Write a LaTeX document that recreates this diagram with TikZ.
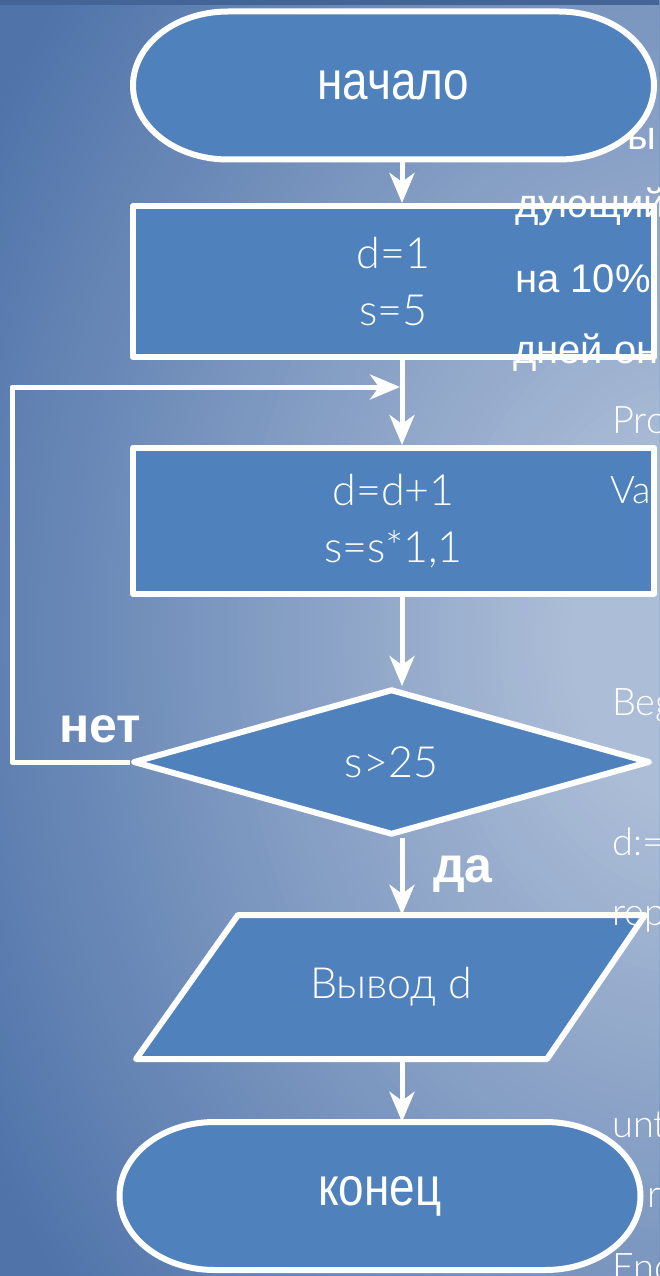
\documentclass[tikz,border=0pt]{standalone}
\usepackage{fontspec}
\setmainfont{Liberation Sans}
\IfFontExistsTF{Lato Light}{\newfontfamily\thinfont{Lato Light}}{\newfontfamily\thinfont{Lato}}
\newfontfamily\narrowfont[FakeStretch=0.85]{Liberation Sans}
\usetikzlibrary{arrows.meta,shadows,shapes.geometric}
\definecolor{boxblue}{RGB}{79,129,189}
\definecolor{bginner}{RGB}{172,189,215}
\definecolor{bgouter}{RGB}{80,116,170}
\definecolor{topband}{RGB}{66,100,150}
\begin{document}
\begin{tikzpicture}[x=1pt,y=-1pt]
\tikzset{
fon/.style={draw=white,line width=6pt,line join=round,fill=boxblue,drop shadow={opacity=0.3,shadow xshift=1.5pt,shadow yshift=-2.5pt},inner sep=0pt,text=white},
kapsula/.pic={\path[fon] (-165.5,-74) -- (165.5,-74) arc[start angle=-90,end angle=90,x radius=95,y radius=74] -- (-165.5,74) arc[start angle=90,end angle=270,x radius=95,y radius=74] -- cycle;},
oval/.style={text=white,inner sep=0pt,minimum width=521pt,minimum height=148pt,font=\narrowfont\fontsize{54}{60}\selectfont},
blok/.style={fon,minimum width=521pt,align=center,font=\thinfont\fontsize{43}{57}\selectfont},
strelka/.style={white,line width=5pt,-{Stealth[length=30pt,width=25pt,inset=9pt]}},
podpis/.style={white,font=\bfseries\fontsize{50}{55}\selectfont,anchor=base},
kusok/.style={white,anchor=base west,inner sep=0pt,font=\fontsize{40}{44}\selectfont},
kod/.style={white,anchor=base west,inner sep=0pt,font=\thinfont\fontsize{38}{42}\selectfont}
}
\useasboundingbox (0,0) rectangle (659,1276);
\clip (0,0) rectangle (659,1276);
\fill[bgouter] (0,0) rectangle (659,1276);
\foreach \k in {0,...,79} {
\pgfmathsetmacro\r{1-0.84*\k/79}
\pgfmathsetmacro\p{100*\k/79}
\fill[bginner!\p!bgouter] (700,640) ellipse[x radius=820*\r,y radius=1050*\r];
}
\fill[topband] (0,0) rectangle (659,5);
\node[kusok] (ru0) at (627,150) {ы};
\pic at (393.5,85.5) {kapsula};
\node[oval] (nachalo) at (393.5,85.5) {начало};
\node[blok,minimum height=151pt] (blok1) at (393.5,281.5) {d=1\\s=5};
\node[blok,minimum height=146pt] (blok2) at (393.5,521) {d=d+1\\s=s*1,1};
\node[fon,diamond,aspect=3.5,minimum width=517pt,minimum height=146pt,font=\thinfont\fontsize{43}{57}\selectfont] (romb) at (391.5,762) {s>25};
\path[fon] (238,915) -- (645,915) -- (547,1059) -- (136,1059) -- cycle;
\node[text=white,inner sep=0pt,minimum height=144pt,font=\thinfont\fontsize{43}{57}\selectfont] (vyvod) at (391,987) {Вывод d};
\pic at (380,1196) {kapsula};
\node[oval] (konec) at (380,1196) {конец};
\coordinate (col) at (402,0);
\coordinate (ugol) at (12,387);
\coordinate (vhod) at (400,387);
\draw[strelka] (nachalo.south -| col) -- (blok1.north -| col);
\draw[strelka] (blok1.south -| col) -- (blok2.north -| col);
\draw[strelka] (blok2.south -| col) -- (romb.north -| col);
\draw[strelka] (romb.south -| col) -- (vyvod.north -| col);
\draw[strelka] (vyvod.south -| col) -- (konec.north -| col);
\draw[strelka,line join=round] (romb.west) -| (ugol) -- (vhod);
\node[podpis] (net) at (100,742) {нет};
\node[podpis] (da) at (463,882) {да};
\foreach \x/\y/\t [count=\i] in {515/218/дующий,515/292/на 10\%,513/363/дней он}
\node[kusok] (ru\i) at (\x,\y) {\t};
\foreach \x/\y/\t [count=\i] in {612/433/Pro,610/503/Va,612/715/Beg,612/855/d:=,612/925/rep,612/1137/unt,647/1207/r,612/1280/End}
\node[kod] (kod\i) at (\x,\y) {\t};
\end{tikzpicture}
\end{document}
